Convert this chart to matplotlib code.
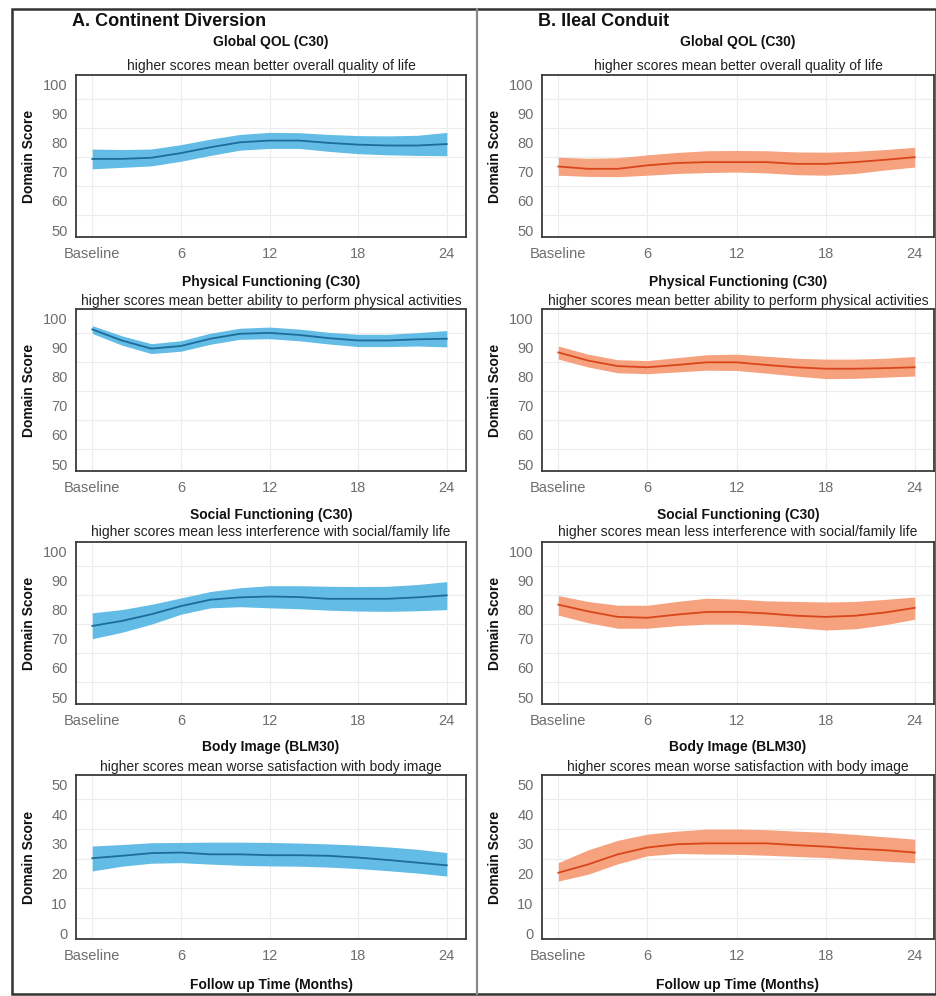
import numpy as np
import matplotlib
matplotlib.use("Agg")
import matplotlib.pyplot as plt
from matplotlib.patches import Rectangle
from matplotlib.lines import Line2D

plt.rcParams['font.family'] = ['Liberation Sans', 'DejaVu Sans']

# follow-up months (0 = baseline)
months = [0, 2, 4, 6, 8, 10, 12, 14, 16, 18, 20, 22, 24]
tick_months = [0, 6, 12, 18, 24]
tick_labels = ['Baseline', '6', '12', '18', '24']

domains = ['Global QOL (C30)', 'Physical Functioning (C30)',
           'Social Functioning (C30)', 'Body Image (BLM30)']
subtitles = ['higher scores mean better overall quality of life',
             'higher scores mean better ability to perform physical activities',
             'higher scores mean less interference with social/family life',
             'higher scores mean worse satisfaction with body image']

# --- continent diversion: mean, upper, lower ---
cd_qol = [74.4, 74.4, 74.8, 76.4, 78.4, 80.1, 80.7, 80.7, 79.9, 79.3, 79.0, 79.0, 79.5]
cd_qol_hi = [77.8, 77.6, 77.8, 79.3, 81.2, 82.8, 83.5, 83.4, 82.8, 82.4, 82.3, 82.5, 83.5]
cd_qol_lo = [71.0, 71.5, 72.0, 73.6, 75.6, 77.4, 78.0, 78.0, 77.0, 76.2, 75.8, 75.6, 75.5]

cd_pf = [96.2, 92.4, 89.6, 90.5, 93.0, 94.7, 95.0, 94.3, 93.2, 92.4, 92.4, 92.8, 93.0]
cd_pf_hi = [97.5, 94.0, 91.3, 92.3, 94.9, 96.6, 97.0, 96.3, 95.2, 94.5, 94.5, 95.1, 95.8]
cd_pf_lo = [94.8, 90.8, 87.9, 88.7, 91.1, 92.8, 93.0, 92.3, 91.2, 90.3, 90.3, 90.5, 90.2]

cd_sf = [74.4, 76.1, 78.4, 81.2, 83.4, 84.2, 84.5, 84.3, 83.7, 83.7, 83.7, 84.2, 84.9]
cd_sf_hi = [78.9, 80.0, 81.8, 84.0, 86.2, 87.5, 88.2, 88.2, 88.0, 87.9, 88.0, 88.6, 89.6]
cd_sf_lo = [70.0, 72.2, 75.0, 78.4, 80.6, 81.0, 80.6, 80.3, 79.8, 79.5, 79.4, 79.6, 80.0]

cd_bi = [25.2, 26.0, 26.9, 27.1, 26.5, 26.5, 26.2, 26.2, 26.0, 25.4, 24.6, 23.7, 22.8]
cd_bi_hi = [29.3, 29.8, 30.4, 30.5, 30.6, 30.6, 30.5, 30.3, 30.0, 29.6, 29.0, 28.2, 27.1]
cd_bi_lo = [20.9, 22.5, 23.5, 23.7, 23.2, 22.8, 22.6, 22.5, 22.2, 21.7, 21.0, 20.2, 19.2]

# --- ileal conduit: mean, upper, lower ---
ic_qol = [71.8, 71.0, 71.0, 72.2, 73.0, 73.3, 73.3, 73.3, 72.7, 72.7, 73.3, 74.1, 75.0]
ic_qol_hi = [75.0, 74.6, 74.8, 75.8, 76.6, 77.2, 77.3, 77.2, 76.8, 76.7, 77.0, 77.6, 78.4]
ic_qol_lo = [68.8, 68.4, 68.3, 68.8, 69.4, 69.7, 69.9, 69.6, 69.0, 68.8, 69.4, 70.6, 71.6]

ic_pf = [88.3, 85.5, 83.6, 83.2, 84.0, 84.9, 84.9, 84.0, 83.2, 82.7, 82.7, 82.9, 83.2]
ic_pf_hi = [90.5, 87.7, 85.8, 85.5, 86.5, 87.5, 87.7, 87.0, 86.3, 86.0, 86.0, 86.3, 86.9]
ic_pf_lo = [86.0, 83.3, 81.3, 81.0, 81.6, 82.2, 82.1, 81.2, 80.2, 79.3, 79.4, 79.8, 80.2]

ic_sf = [81.7, 79.4, 77.5, 77.2, 78.3, 79.2, 79.2, 78.7, 77.9, 77.5, 77.9, 79.0, 80.6]
ic_sf_hi = [84.8, 82.8, 81.5, 81.5, 82.8, 83.9, 83.6, 83.0, 82.8, 82.6, 82.8, 83.5, 84.3]
ic_sf_lo = [78.1, 75.5, 73.6, 73.6, 74.5, 75.0, 75.0, 74.5, 73.8, 73.0, 73.4, 74.8, 76.7]

ic_bi = [20.3, 23.1, 26.5, 28.8, 29.9, 30.2, 30.2, 30.2, 29.6, 29.1, 28.4, 27.9, 27.1]
ic_bi_hi = [23.7, 28.0, 31.2, 33.3, 34.3, 35.0, 35.0, 34.8, 34.3, 33.9, 33.2, 32.4, 31.6]
ic_bi_lo = [17.5, 19.8, 23.3, 26.0, 26.8, 26.6, 26.5, 26.2, 25.8, 25.4, 24.8, 24.2, 23.7]

columns = [
    ('A. Continent Diversion', '#62bce5', '#1d6c9c',
     [(cd_qol, cd_qol_lo, cd_qol_hi), (cd_pf, cd_pf_lo, cd_pf_hi),
      (cd_sf, cd_sf_lo, cd_sf_hi), (cd_bi, cd_bi_lo, cd_bi_hi)]),
    ('B. Ileal Conduit', '#f6a27e', '#d8461a',
     [(ic_qol, ic_qol_lo, ic_qol_hi), (ic_pf, ic_pf_lo, ic_pf_hi),
      (ic_sf, ic_sf_lo, ic_sf_hi), (ic_bi, ic_bi_lo, ic_bi_hi)]),
]

W, H = 937, 996
fig = plt.figure(figsize=(W / 100, H / 100), dpi=100)


def fx(px):
    return px / W


def fy(py):
    return 1 - py / H


col_x = [(76, 466), (542, 934)]
row_y = [(75, 237), (309, 471), (542, 704), (775, 939)]
title_off = [33, 27, 27, 28]
sub_off = [9, 8, 10, 8]

for c, (head, fill_col, line_col, series) in enumerate(columns):
    x0, x1 = col_x[c]
    fig.text(fx(x0 - 4), fy(22), head, fontsize=13, fontweight='bold',
             ha='left', va='center', color='#111111')
    for r, (mean, lo, hi) in enumerate(series):
        y0, y1 = row_y[r]
        ax = fig.add_axes([fx(x0), fy(y1), fx(x1) - fx(x0), fy(y0) - fy(y1)])
        ax.fill_between(months, lo, hi, color=fill_col, linewidth=0, zorder=2)
        ax.plot(months, mean, color=line_col, lw=1.3, zorder=3)

        ax.set_xlim(-1.1, 25.3)
        if r == 3:
            ax.set_ylim(-2, 53.2)
            ax.set_yticks([0, 10, 20, 30, 40, 50])
            ax.set_yticks([5, 15, 25, 35, 45], minor=True)
        else:
            ax.set_ylim(47.6, 103.2)
            ax.set_yticks([50, 60, 70, 80, 90, 100])
            ax.set_yticks([55, 65, 75, 85, 95], minor=True)
        ax.set_xticks(tick_months)
        ax.set_xticklabels(tick_labels)
        ax.tick_params(axis='both', which='both', length=0, labelsize=10.5,
                       labelcolor='#6e6e6e')
        ax.tick_params(axis='x', pad=7)
        ax.tick_params(axis='y', pad=6)
        ax.grid(True, axis='x', which='major', color='#ececec', lw=0.8, zorder=0)
        ax.grid(True, axis='y', which='minor', color='#ececec', lw=0.8, zorder=0)
        for sp in ax.spines.values():
            sp.set_color('#3a3a3a')
            sp.set_linewidth(1.3)
        ax.set_ylabel('Domain Score', fontsize=10, fontweight='bold', color='#111111')
        ax.yaxis.set_label_coords(-0.103, 0.5)

        xc = (x0 + x1) / 2
        fig.text(fx(xc), fy(y0 - title_off[r]), domains[r], fontsize=10,
                 fontweight='bold', ha='center', va='center', color='#111111')
        fig.text(fx(xc), fy(y0 - sub_off[r]), subtitles[r], fontsize=10,
                 ha='center', va='center', color='#222222')

    fig.text(fx((x0 + x1) / 2), fy(985), 'Follow up Time (Months)', fontsize=10,
             fontweight='bold', ha='center', va='center', color='#111111')

# outer frame and column divider
fig.patches.append(Rectangle((fx(12), fy(994)), fx(936) - fx(12), fy(9) - fy(994),
                             transform=fig.transFigure, fill=False,
                             edgecolor='#333333', lw=1.8))
fig.lines.append(Line2D([fx(477), fx(477)], [fy(994), fy(9)],
                        transform=fig.transFigure, color='#8a8a8a', lw=1.6))

fig.savefig('out.png', dpi=100, facecolor='white')
